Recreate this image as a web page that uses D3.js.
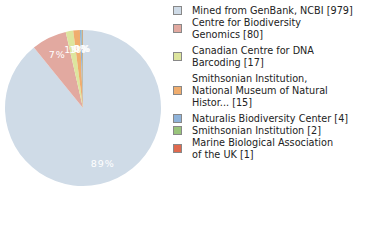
<!DOCTYPE html>
<html>
<head>
<meta charset="utf-8">
<script src="https://cdn.jsdelivr.net/npm/d3@7"></script>
<style>
  body { margin: 0; background: #fff; }
  svg { display: block; }
</style>
</head>
<body>
<div class="chart"></div>
<script>
// institutions, their record counts and the wrapped legend text
var names = [
  "Mined from GenBank, NCBI",
  "Centre for Biodiversity Genomics",
  "Canadian Centre for DNA Barcoding",
  "Smithsonian Institution, National Museum of Natural History",
  "Naturalis Biodiversity Center",
  "Smithsonian Institution",
  "Marine Biological Association of the UK"
];
var counts = [979, 80, 17, 15, 4, 2, 1];
var legendLines = [
  ["Mined from GenBank, NCBI [979]"],
  ["Centre for Biodiversity", "Genomics [80]"],
  ["Canadian Centre for DNA", "Barcoding [17]"],
  ["Smithsonian Institution,", "National Museum of Natural", "Histor... [15]"],
  ["Naturalis Biodiversity Center [4]"],
  ["Smithsonian Institution [2]"],
  ["Marine Biological Association", "of the UK [1]"]
];
var colors = ["#cfdbe7", "#e2a9a0", "#dde59e", "#f0ad6e", "#8fb3da", "#99c47b", "#e0694e"];

var svgWidth = 380, svgHeight = 240;
var cx = 83, cy = 108, radius = 78;

var svg = d3.select(".chart")
  .append("svg")
  .attr("width", svgWidth)
  .attr("height", svgHeight);

var data = names.map(function(n, i){ return {name: n, count: counts[i], i: i}; });
var total = d3.sum(counts);

var color = d3.scaleOrdinal().domain(names).range(colors);

//pie generator, clockwise from 12 o'clock in data order
var pie = d3.pie().sort(null).value(d => d.count);
var arc = d3.arc().innerRadius(0).outerRadius(radius);
var labelArc = d3.arc().innerRadius(59).outerRadius(59);

var pieGroup = svg.append("g")
  .attr("transform", `translate(${cx},${cy})`);

var arcs = pie(data);

pieGroup.selectAll("path")
  .data(arcs)
  .enter()
  .append("path")
  .attr("d", arc)
  .attr("fill", d => color(d.data.name));

pieGroup.selectAll("text")
  .data(arcs)
  .enter()
  .append("text")
  .attr("transform", d => `translate(${labelArc.centroid(d)})`)
  .attr("dy", "0.35em")
  .attr("text-anchor", "middle")
  .attr("fill", "#fff")
  .style("font-family", "DejaVu Sans, sans-serif")
  .style("font-size", "9.5px")
  .style("letter-spacing", "1px")
  .text(d => Math.floor(d.data.count / total * 100) + "%");

//legend
var legend = svg.append("g");
var y = 13.5;
legendLines.forEach(function(lines, i){
  var g = legend.append("g");
  var mid = y - 3.5 + (lines.length - 1) * 6;
  g.append("rect")
    .attr("x", 173.5)
    .attr("y", mid - 3.5)
    .attr("width", 8)
    .attr("height", 8)
    .attr("fill", color(names[i]))
    .attr("stroke", "#888")
    .attr("stroke-width", 1);
  lines.forEach(function(t, j){
    g.append("text")
      .attr("x", 192)
      .attr("y", y + j * 12)
      .attr("fill", "#222")
      .style("font-family", "DejaVu Sans, sans-serif")
      .style("font-size", "9.7px")
      .text(t);
  });
  y += lines.length * 12 + (lines.length > 1 ? 4 : 0);
});
</script>
</body>
</html>
